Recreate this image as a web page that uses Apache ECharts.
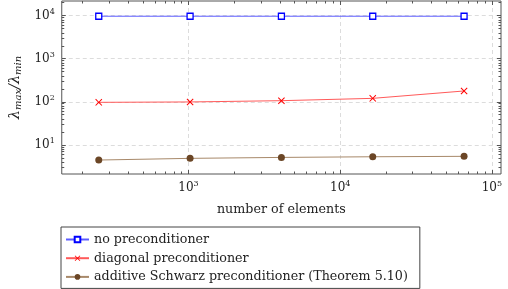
<!DOCTYPE html>
<html><head><meta charset="utf-8">
<script src="https://cdn.jsdelivr.net/npm/echarts@6/dist/echarts.min.js"></script>
<style>html,body{margin:0;padding:0;background:#fff}#c{width:508px;height:289px}</style>
</head><body><div id="c"></div>
<script>
// ---- data ----
const elements = [256, 1024, 4096, 16384, 65536];
const noPrecond = [9700, 9700, 9700, 9700, 9700];
const diagPrecond = [97, 99, 106, 120, 178];
const schwarzPrecond = [4.43, 4.85, 5.1, 5.28, 5.4];
const seriesNames = ['no preconditioner', 'diagonal preconditioner', 'additive Schwarz preconditioner (Theorem 5.10)'];
const xMajorTicks = [1e3, 1e4, 1e5];
const yMajorTicks = [1e1, 1e2, 1e3, 1e4];
const xRange = [146, 114800];
const yRange = [2.1, 21900];

function minorTicks(lo, hi) {
  const out = [];
  for (let p = Math.floor(Math.log10(lo)); p <= Math.ceil(Math.log10(hi)); p++) {
    for (let k = 2; k <= 9; k++) { const v = k * Math.pow(10, p); if (v > lo && v < hi) out.push(v); }
  }
  return out;
}
const xMinor = minorTicks(xRange[0], xRange[1]);
const yMinor = minorTicks(yRange[0], yRange[1]);

const FONT = 'DejaVu Serif';
const TXT = '#222';
const rich = {
  b: { fontFamily: FONT, fontSize: 12, color: TXT },
  s: { fontFamily: FONT, fontSize: 8, color: TXT, padding: [0, 0, 7, 0] }
};
const powLabel = v => '{b|10}{s|' + Math.round(Math.log10(v)) + '}';

function axis(dim, pos, range, ticks, len, opts) {
  return Object.assign({
    type: 'log', position: pos, min: range[0], max: range[1], logBase: 10,
    axisLine: { show: false },
    axisTick: { show: true, inside: true, length: len, customValues: ticks, lineStyle: { color: '#555', width: 1 } },
    axisLabel: { show: false },
    splitLine: { show: false },
    minorTick: { show: false }
  }, opts || {});
}

const CROSS = 'path://M0,1L1,0L5,4L9,0L10,1L6,5L10,9L9,10L5,6L1,10L0,9L4,5Z';

const option = {
  animation: false,
  backgroundColor: '#fff',
  grid: { left: 61, right: 7, top: 1, bottom: 115, show: true, borderColor: '#555', borderWidth: 1, backgroundColor: 'transparent' },
  xAxis: [
    axis('x', 'bottom', xRange, xMajorTicks, 4, {
      name: 'number of elements', nameLocation: 'middle', nameGap: 29,
      nameTextStyle: { fontFamily: FONT, fontSize: 12.7, color: TXT },
      axisLabel: { show: true, customValues: xMajorTicks, formatter: powLabel, rich: rich, margin: 6 },
      splitLine: { show: true, lineStyle: { color: '#dcdcdc', type: [4, 3], width: 1 } }
    }),
    axis('x', 'bottom', xRange, xMinor, 2.5),
    axis('x', 'top', xRange, xMajorTicks, 4),
    axis('x', 'top', xRange, xMinor, 2.5)
  ],
  yAxis: [
    axis('y', 'left', yRange, yMajorTicks, 4, {
      name: '{l|λ}{sb|max}{l|/λ}{sb|min}', nameLocation: 'middle', nameGap: 37,
      nameTextStyle: { rich: {
        l: { fontFamily: FONT, fontSize: 14.5, fontStyle: 'italic', color: TXT },
        sb: { fontFamily: FONT, fontSize: 10, fontStyle: 'italic', color: TXT, padding: [6, 0, 0, 0] }
      } },
      axisLabel: { show: true, customValues: yMajorTicks, formatter: powLabel, rich: rich, margin: 7 },
      splitLine: { show: true, lineStyle: { color: '#dcdcdc', type: [4, 3], width: 1 } }
    }),
    axis('y', 'left', yRange, yMinor, 2.5),
    axis('y', 'right', yRange, yMajorTicks, 4),
    axis('y', 'right', yRange, yMinor, 2.5)
  ],
  legend: {
    orient: 'vertical', left: 61, top: 227,
    padding: [5, 12, 4, 4], itemGap: 3.7, itemWidth: 23, itemHeight: 7,
    borderColor: '#444', borderWidth: 1, backgroundColor: '#fff',
    textStyle: { fontFamily: FONT, fontSize: 12.7, color: TXT, lineHeight: 15 },
    data: seriesNames
  },
  series: [
    { name: seriesNames[0], type: 'line', data: elements.map((x, i) => [x, noPrecond[i]]),
      symbol: 'rect', symbolSize: 6, showAllSymbol: true,
      itemStyle: { color: '#fff', borderColor: '#0000ff', borderWidth: 1.3 },
      lineStyle: { color: '#5c5cff', width: 1 } },
    { name: seriesNames[1], type: 'line', data: elements.map((x, i) => [x, diagPrecond[i]]),
      symbol: CROSS, symbolSize: 7,
      itemStyle: { color: '#ff0000', borderWidth: 0 },
      lineStyle: { color: '#ff5a5a', width: 1 } },
    { name: seriesNames[2], type: 'line', data: elements.map((x, i) => [x, schwarzPrecond[i]]),
      symbol: 'circle', symbolSize: 7,
      itemStyle: { color: '#6b4626', borderWidth: 0 },
      lineStyle: { color: '#a8896a', width: 1 } }
  ]
};
echarts.init(document.getElementById('c')).setOption(option);
</script></body></html>
